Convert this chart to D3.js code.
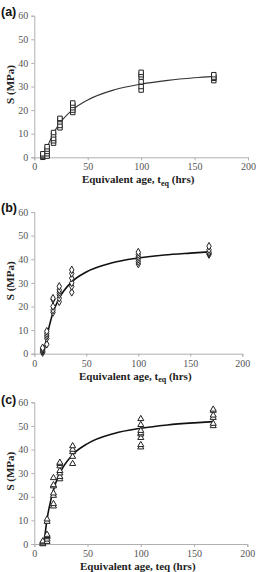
<!DOCTYPE html>
<html>
<head>
<meta charset="utf-8">
<script src="https://cdn.jsdelivr.net/npm/d3@7"></script>
<style>
  body { margin: 0; background: #fff; }
  svg { display: block; }
</style>
</head>
<body>
<div id="chart"></div>
<script>

// test ages (hrs) for the measured groups
const ages = [8, 12, 18, 24, 36, 100, 168]

const strengthA = [
  [0, 0.5, 1, 1.5],
  [0.5, 1.5, 2.5, 3.5, 4.5],
  [6, 7, 8, 9.5, 10.5],
  [12.5, 13.5, 15, 16, 16.5],
  [19, 20, 21, 22, 23],
  [28.5, 30, 32, 34, 35, 36],
  [32.5, 33.5, 34, 35]
]
const strengthB = [
  [0.5, 1, 1.5, 2, 2.5],
  [4, 6.5, 7.5, 8.5, 9.5],
  [17.5, 18.5, 20, 23, 23.5],
  [22, 23.5, 25, 26, 27, 28.5],
  [26, 28.5, 30, 32, 34, 35.5],
  [38, 39, 40, 41, 42, 43],
  [42, 42.5, 43, 44, 45.5]
]
const strengthC = [
  [0, 0.3, 0.8, 1.2],
  [1, 2, 3, 3.5, 4, 9.5, 10.5],
  [16, 17, 20.5, 21.5, 24.5, 25, 28],
  [27.5, 28.5, 30, 31, 33, 34, 34.5],
  [34, 37, 39, 40, 41.5],
  [41, 42, 45, 46.5, 47, 48, 50.5, 53],
  [50, 51, 53.5, 54.5, 56.5, 57]
]

// fitted curves
const fitAges = [9, 12, 18, 24, 36, 50, 75, 100, 125, 150, 168]
const fitA = [0, 4.1, 10.2, 14.5, 20.2, 24.3, 28.6, 31.0, 32.6, 33.7, 34.3]
const fitB = [0, 6.9, 17.4, 23.5, 30.4, 34.6, 38.5, 40.5, 41.8, 42.6, 43.1]
const fitC = [0, 10.5, 22.9, 30.0, 37.8, 42.5, 46.8, 49.0, 50.4, 51.3, 51.8]

const yTicks = [0, 10, 20, 30, 40, 50, 60]
const xTicks = [0, 50, 100, 150, 200]

// panel layout
const panels = [
  {label: '(a)', data: strengthA, fit: fitA, marker: 'square', sub: true,
   top: 15.7, bottom: 157.3, left: 34.3, right: 248, labelY: 16},
  {label: '(b)', data: strengthB, fit: fitB, marker: 'diamond', sub: true,
   top: 212, bottom: 353.7, left: 34.3, right: 242.3, labelY: 212},
  {label: '(c)', data: strengthC, fit: fitC, marker: 'triangle', sub: false,
   top: 402.3, bottom: 544, left: 34.3, right: 247.3, labelY: 404}
]

const serif = "'Liberation Serif', 'Times New Roman', serif"

const svg = d3.select('#chart')
  .append('svg')
    .attr('width', 264)
    .attr('height', 572)

const axisColor = '#b0b0b0'
const tickText = '#555'

panels.forEach(p => {
  const x = d3.scaleLinear().domain([0, 200]).range([p.left, p.right])
  const y = d3.scaleLinear().domain([0, 60]).range([p.bottom, p.top])
  const g = svg.append('g')

  // axes
  const yAxis = g.append('g')
    .attr('transform', `translate(${p.left},0)`)
    .call(d3.axisLeft(y).tickValues(yTicks).tickSize(3).tickPadding(3))
  const xAxis = g.append('g')
    .attr('transform', `translate(0,${p.bottom})`)
    .call(d3.axisBottom(x).tickValues(xTicks).tickSize(3).tickPadding(3))
  ;[xAxis, yAxis].forEach(a => {
    a.attr('font-family', serif).attr('font-size', 10)
    a.select('.domain').attr('stroke', axisColor)
    a.selectAll('.tick line').attr('stroke', axisColor)
    a.selectAll('.tick text').attr('fill', tickText)
  })

  // fitted curve
  const line = d3.line()
    .x((d, i) => x(fitAges[i]))
    .y(d => y(d))
    .curve(d3.curveMonotoneX)
  g.append('path')
    .datum(p.fit)
    .attr('d', line)
    .attr('fill', 'none')
    .attr('stroke', p.marker == 'square' ? '#333' : '#111')
    .attr('stroke-width', p.marker == 'square' ? 1.1 : 1.6)

  // points
  const pts = []
  p.data.forEach((vals, i) => vals.forEach(v => pts.push({t: ages[i], s: v})))
  const sym = p.marker == 'square' ? d3.symbolSquare
            : p.marker == 'diamond' ? d3.symbolDiamond : d3.symbolTriangle
  const size = p.marker == 'square' ? 20 : p.marker == 'diamond' ? 17 : 16
  g.selectAll('path.pt')
    .data(pts)
    .join('path')
      .attr('class', 'pt')
      .attr('transform', d => `translate(${x(d.t)},${y(d.s)})`)
      .attr('d', d3.symbol().type(sym).size(size))
      .attr('fill', '#fff')
      .attr('stroke', '#222')
      .attr('stroke-width', 1)

  // titles
  const xt = g.append('text')
    .attr('x', (p.left + p.right) / 2 - 3)
    .attr('y', p.bottom + 26)
    .attr('text-anchor', 'middle')
    .attr('font-family', serif)
    .attr('font-weight', 'bold')
    .attr('font-size', 11)
    .attr('fill', '#222')
  xt.append('tspan').text('Equivalent age, t')
  if (p.sub) {
    xt.append('tspan').attr('dy', 2.5).attr('font-size', 8).text('eq')
    xt.append('tspan').attr('dy', -2.5).text(' (hrs)')
  } else {
    xt.append('tspan').text('eq (hrs)')
  }

  g.append('text')
    .attr('transform', `translate(14,${(p.top + p.bottom) / 2 - 2}) rotate(-90)`)
    .attr('text-anchor', 'middle')
    .attr('font-family', serif)
    .attr('font-weight', 'bold')
    .attr('font-size', 11)
    .attr('fill', '#222')
    .text('S (MPa)')

  g.append('text')
    .attr('x', 1)
    .attr('y', p.labelY)
    .attr('font-family', "'Liberation Sans', Arial, sans-serif")
    .attr('font-weight', 'bold')
    .attr('font-size', 12.5)
    .attr('fill', '#111')
    .text(p.label)
})
</script>
</body>
</html>
